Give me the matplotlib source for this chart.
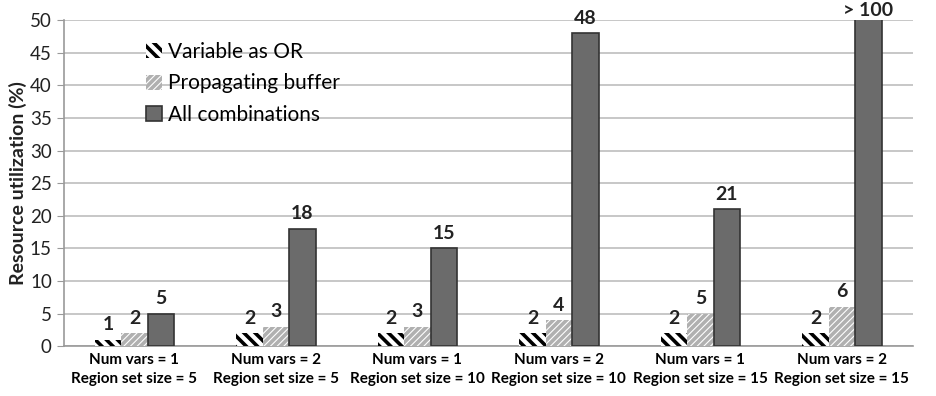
import numpy as np
import matplotlib.pyplot as plt

plt.rcParams['font.family'] = ['Lato', 'DejaVu Sans']
plt.rcParams['hatch.linewidth'] = 2.6

groups = ['Num vars = 1\nRegion set size = 5', 'Num vars = 2\nRegion set size = 5',
          'Num vars = 1\nRegion set size = 10', 'Num vars = 2\nRegion set size = 10',
          'Num vars = 1\nRegion set size = 15', 'Num vars = 2\nRegion set size = 15']
var_or = [1, 2, 2, 2, 2, 2]
prop_buf = [2, 3, 3, 4, 5, 6]
all_comb = [5, 18, 15, 48, 21, 100]
all_labels = ['5', '18', '15', '48', '21', '> 100']

fig = plt.figure(figsize=(9.36, 3.96), dpi=100)
ax = fig.add_axes([0.068, 0.126, 0.907, 0.823])

x = np.arange(len(groups))
w = 0.187
b1 = ax.bar(x - w, var_or, w, color='white', edgecolor='black', hatch='\\\\\\', linewidth=0,
            label='Variable as OR', zorder=3)
b2 = ax.bar(x, prop_buf, w, color='white', edgecolor='#b0b0b0', hatch='/////', linewidth=0,
            label='Propagating buffer', zorder=3)
b3 = ax.bar(x + w, all_comb, w, color='#6b6b6b', edgecolor='#333333', linewidth=1.2,
            label='All combinations', zorder=3)

ymax = 50
ax.set_ylim(0, ymax)
ax.set_xlim(-0.5, len(groups) - 0.5)
ax.set_yticks(np.arange(0, 51, 5))
ax.yaxis.grid(True, color='#bdbdbd', linewidth=1.2, zorder=0)
ax.set_axisbelow(True)

lab = dict(ha='center', va='bottom', fontsize=14, fontweight='bold', color='#222222')
for i in range(len(groups)):
    ax.text(x[i] - w, var_or[i] + 1.0, str(var_or[i]), **lab)
    ax.text(x[i], prop_buf[i] + 1.0, str(prop_buf[i]), **lab)
    if all_comb[i] > ymax:
        ax.text(x[i] + w, ymax + 0.2, all_labels[i], clip_on=False, **lab)
    else:
        ax.text(x[i] + w, all_comb[i] + 1.0, all_labels[i], **lab)

ax.set_xticks(x)
ax.set_xticklabels(groups, fontsize=11, fontweight='bold', linespacing=1.45)
ax.tick_params(axis='x', length=0, pad=5)
ax.tick_params(axis='y', length=5, color='#999999', labelsize=13.5, labelcolor='#222222')
for s in ['top', 'right']:
    ax.spines[s].set_visible(False)
for s in ['left', 'bottom']:
    ax.spines[s].set_color('#999999')
    ax.spines[s].set_linewidth(1.2)

ax.set_ylabel('Resource utilization (%)', fontsize=14, fontweight='bold', color='#222222',
              labelpad=2)

ax.legend(loc='upper left', bbox_to_anchor=(0.085, 0.965), frameon=False, fontsize=15,
          handlelength=0.75, handleheight=0.75, handletextpad=0.3, labelspacing=0.55,
          borderpad=0)

fig.savefig('out.png', dpi=100)
